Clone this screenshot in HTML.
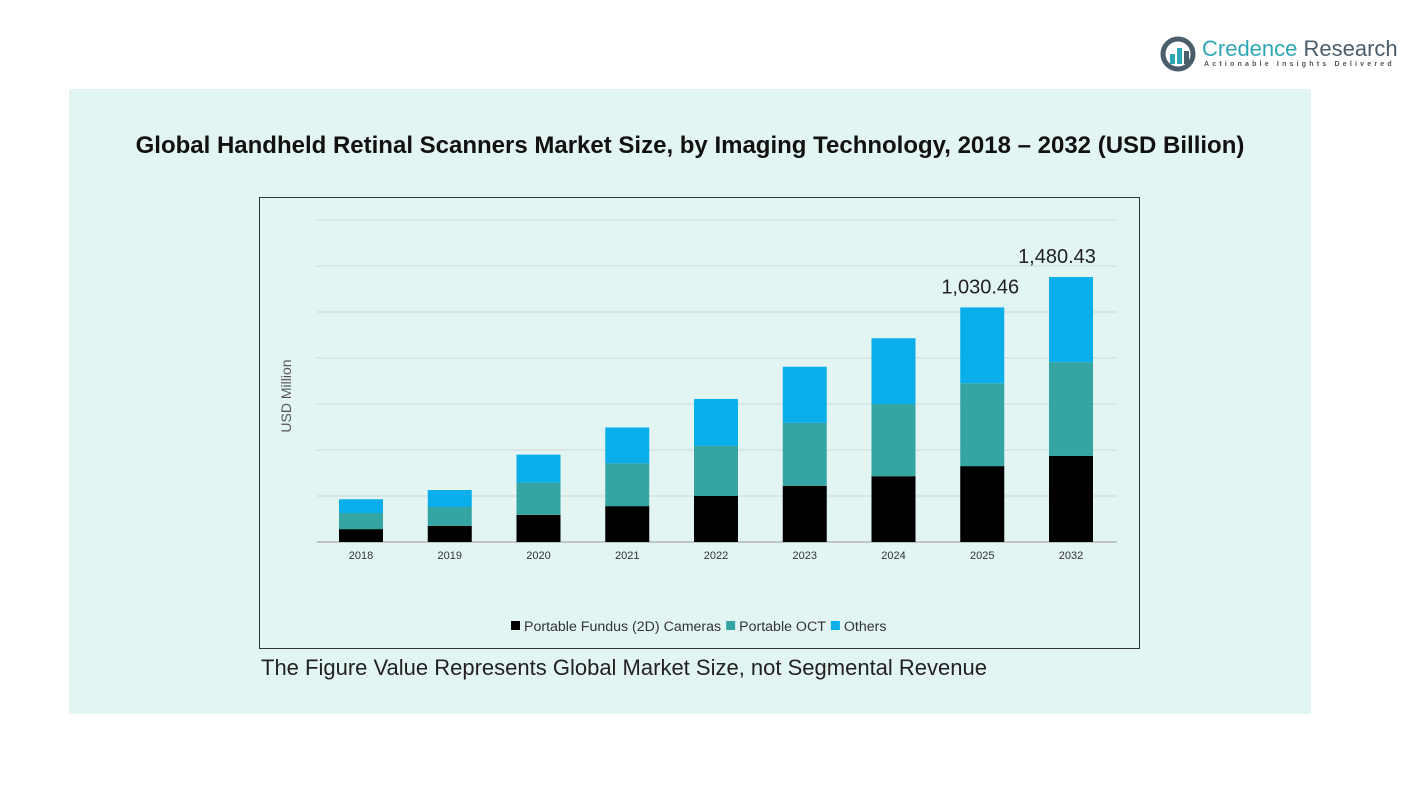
<!DOCTYPE html>
<html><head><meta charset="utf-8"><style>
body{margin:0;width:1428px;height:804px;background:#fff;position:relative;font-family:"Liberation Sans",sans-serif;overflow:hidden}
.abs{position:absolute}
</style></head><body>
<div class="abs" style="left:1160px;top:36px;width:240px;height:40px">
<svg width="40" height="40" style="position:absolute;left:0;top:0"><circle cx="18" cy="18" r="15" fill="none" stroke="#4a5d6b" stroke-width="5"/><rect x="10" y="18" width="5" height="10" fill="#2fa6b5"/><rect x="17" y="12" width="5" height="16" fill="#2fa6b5"/><rect x="24" y="15" width="5" height="13" fill="#4a5d6b"/></svg>
<div class="abs" style="left:42px;top:0;font-size:22px;color:#2fa6b5;white-space:nowrap">Credence <span style="color:#4a5d6b">Research</span></div>
<div class="abs" style="left:44px;top:25px;font-size:7px;letter-spacing:3.2px;color:#555;white-space:nowrap;font-weight:bold">Actionable Insights Delivered</div>
</div>
<div class="abs" style="left:69px;top:89px;width:1242px;height:625px;background:#e3f5f3"></div>
<div class="abs" style="left:69px;top:132px;width:1242px;text-align:center;font-size:24px;font-weight:bold;color:#111;white-space:nowrap">Global Handheld Retinal Scanners Market Size, by Imaging Technology, 2018 – 2032 (USD Billion)</div>
<div class="abs" style="left:259px;top:197px;width:879px;height:450px;border:1px solid #333"></div>
<svg id="chart" class="abs" style="left:0;top:0" width="1428" height="804"></svg>
<div class="abs" style="left:261px;top:655px;font-size:22px;color:#222;white-space:nowrap">The Figure Value Represents Global Market Size, not Segmental Revenue</div>
<script>
const years=["2018","2019","2020","2021","2022","2023","2024","2025","2032"];
const fundus=[28,35,59,78,100,122,143,165,187];
const oct=[35,41,70,93,109,137,157,180,204];
const others=[30,37,61,78,102,122,143,165,185];
const labels={"2025":"1,030.46","2032":"1,480.43"};
const series=[{n:"Portable Fundus (2D) Cameras",v:fundus,c:"#000000"},{n:"Portable OCT",v:oct,c:"#35a5a3"},{n:"Others",v:others,c:"#0aaeea"}];
const svg=document.getElementById('chart');const NS="http://www.w3.org/2000/svg";
const x0=317,x1=1117,yb=542,pxPer=0.46;
const y=v=>yb-v*pxPer;const bw=44;const xc=i=>361+i*((1071-361)/(years.length-1));
function mk(t,a){const e=document.createElementNS(NS,t);for(const k in a)e.setAttribute(k,a[k]);svg.appendChild(e);return e;}
for(let g=0;g<=700;g+=100){const l=mk('line',{x1:x0,x2:x1,y1:y(g),y2:y(g),stroke:g==0?'#999':'#cfd8d8','stroke-width':1});

}
years.forEach((yr,i)=>{let acc=0;series.forEach(s=>{const v=s.v[i];const r=mk('rect',{x:xc(i)-bw/2,y:y(acc+v),width:bw,height:v*pxPer,fill:s.c});

acc+=v;});
const t=mk('text',{x:xc(i),y:559,'text-anchor':'middle','font-size':11,fill:'#333','font-family':'Liberation Sans'});t.textContent=yr;


if(labels[yr]){const L=mk('text',{x:xc(i)-(yr=="2025"?2:14),y:y(acc)-14,'text-anchor':'middle','font-size':20,fill:'#222','font-family':'Liberation Sans'});L.textContent=labels[yr];

}});
const yt=mk('text',{x:291,y:396,'text-anchor':'middle','font-size':14,fill:'#555',transform:'rotate(-90 291 396)','font-family':'Liberation Sans'});yt.textContent='USD Million';


let lx=511;series.forEach(s=>{const r=mk('rect',{x:lx,y:621,width:9,height:9,fill:s.c});


const t=mk('text',{x:lx+13,y:631,'font-size':14.2,fill:'#333','font-family':'Liberation Sans'});t.textContent=s.n;


lx+=13+t.getComputedTextLength()+5;});
</script>
</body></html>
